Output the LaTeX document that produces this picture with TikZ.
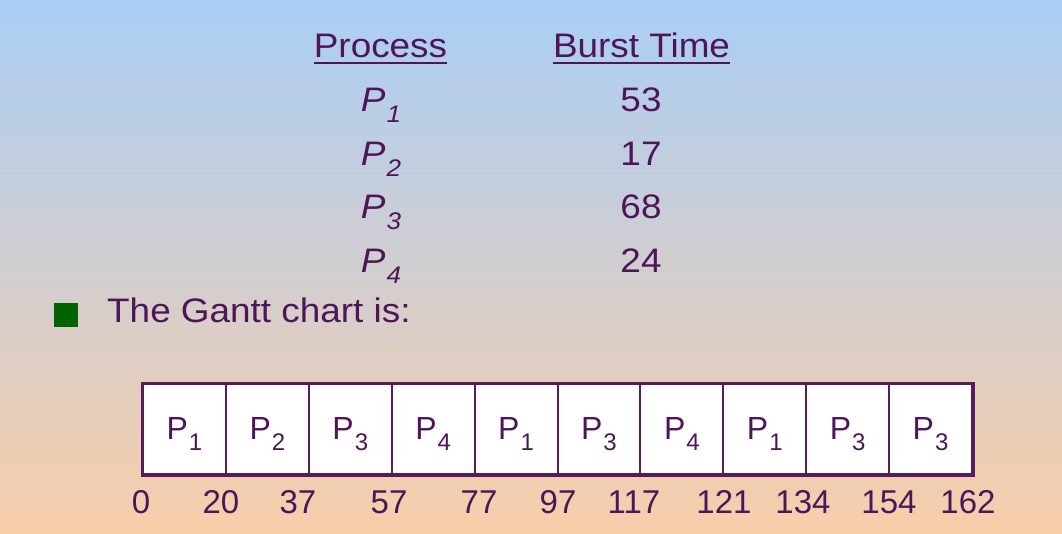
\documentclass[tikz,border=0pt]{standalone}
\usepackage{fontspec}
\setmainfont{Liberation Sans}[FakeStretch=1.085]
\newfontfamily\chartfont{Liberation Sans}
\usetikzlibrary{positioning}

\definecolor{txtpurple}{RGB}{78,22,88}
\definecolor{linepurple}{RGB}{88,28,92}
\definecolor{bullgreen}{RGB}{0,100,0}
\definecolor{bgtop}{RGB}{170,206,246}
\definecolor{bgmid}{RGB}{222,216,228}
\definecolor{bgbot}{RGB}{248,206,170}

\newcommand{\psub}[1]{\kern1pt\raisebox{-11pt}{\fontsize{24}{24}\selectfont #1}}

\tikzset{
	txt/.style={text=txtpurple, inner sep=0pt, font=\fontsize{34}{40}\selectfont},
	charttxt/.style={text=txtpurple, inner sep=0pt, font=\chartfont\fontsize{33}{38}\selectfont},
	cell/.style={draw=linepurple, line width=2pt, fill=white, minimum width=82.9pt, minimum height=90pt, inner sep=0pt},
	uline/.style={draw=txtpurple, line width=2pt}
}

\begin{document}
\begin{tikzpicture}[x=1pt, y=1pt]
		%background
		\shade[top color=bgtop, middle color=bgmid, bottom color=bgbot] (0,0) rectangle (1062,533);
		\useasboundingbox (0,0) rectangle (1062,533);
		
		%table header
		\node[txt, anchor=base] (hproc) at (380.5,475) {Process};
		\node[txt, anchor=base] (hburst) at (641.5,475) {Burst Time};
		\draw[uline] ([yshift=-5pt]hproc.base west) -- ([yshift=-5pt]hproc.base east);
		\draw[uline] ([yshift=-5pt]hburst.base west) -- ([yshift=-5pt]hburst.base east);
		
		%table rows
		\foreach \p/\b/\y in {1/53/421, 2/17/367, 3/68/314, 4/24/260}{
			\node[txt, anchor=base] (proc\p) at (381,\y) {\textit{P\psub{\p}}};
			\node[txt, anchor=base] (burst\p) at (641,\y) {\b};
		}
		
		%bullet
		\node[fill=bullgreen, minimum size=24pt, inner sep=0pt] (bullet) at (66,218) {};
		\node[txt, anchor=base west] (gantttxt) at (107,210) {The Gantt chart is:};
		
		%gantt chart
		\foreach \p [count=\i] in {1,2,3,4,1,3,4,1,3,3}{
			\node[cell] (cell\i) at ({143+82.9*\i-41.45},104) {};
			\node[charttxt, font=\chartfont\fontsize{32}{38}\selectfont, anchor=base] (lab\i) at ([yshift=-10pt]cell\i.center) {P\psub{\p}};
		}
		\draw[linepurple, line width=3pt] (cell1.south west) rectangle (cell10.north east);
		
		\foreach \t/\x in {0/141, 20/221, 37/298, 57/389, 77/479, 97/558, 117/634, 121/724, 134/803, 154/889, 162/968}{
			\node[charttxt, anchor=base] (time\t) at (\x,20) {\t};
		}
\end{tikzpicture}
\end{document}
